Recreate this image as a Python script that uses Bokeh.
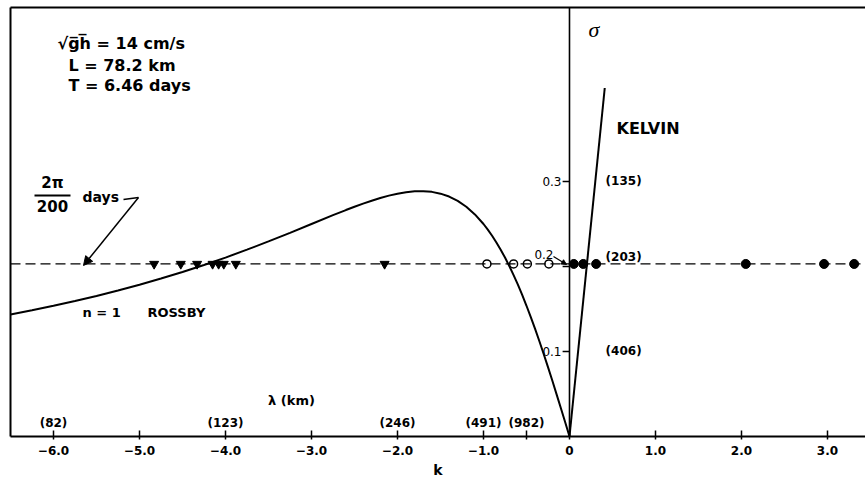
from bokeh.plotting import figure
from bokeh.models import (Range1d, LinearAxis, Span, Label, ColumnDataSource,
                          FixedTicker, Arrow, NormalHead)
from bokeh.embed import file_html
from bokeh.resources import INLINE
from bokeh.core.properties import value

# ---- data -----------------------------------------------------------------
# n = 1 Rossby dispersion curve (nondimensional wavenumber k, frequency sigma)
rossby_k = [-6.5, -6.25, -6.0, -5.75, -5.5, -5.25, -5.0, -4.75, -4.5, -4.25,
            -4.0, -3.75, -3.5, -3.25, -3.0, -2.75, -2.6, -2.5, -2.4, -2.3, -2.2,
            -2.1, -2.0, -1.9, -1.8, -1.7, -1.6, -1.5, -1.4, -1.3, -1.2, -1.1,
            -1.0, -0.95, -0.9, -0.85, -0.8, -0.75, -0.7, -0.65, -0.6, -0.55,
            -0.5, -0.45, -0.4, -0.35, -0.3, -0.25, -0.2, -0.15, -0.1, -0.05, 0.0]
rossby_sigma = [0.1436, 0.1486, 0.1538, 0.1594, 0.1654, 0.1718, 0.1786, 0.1858,
                0.1935, 0.2018, 0.2105, 0.2198, 0.2295, 0.2396, 0.2500, 0.2604,
                0.2664, 0.2703, 0.2740, 0.2774, 0.2806, 0.2834, 0.2857, 0.2874,
                0.2885, 0.2886, 0.2878, 0.2857, 0.2823, 0.2772, 0.2703, 0.2613,
                0.2500, 0.2434, 0.2362, 0.2283, 0.2198, 0.2105, 0.2006, 0.1899,
                0.1786, 0.1665, 0.1538, 0.1405, 0.1266, 0.1121, 0.0971, 0.0816,
                0.0658, 0.0496, 0.0332, 0.0167, 0.0]

# Kelvin wave branch
kelvin_k = [0.0, 0.41]
kelvin_sigma = [0.0, 0.41]

# observed 200-day frequency and the wavenumbers found at it
sigma_obs = 0.203
tri_k = [-4.83, -4.52, -4.33, -4.15, -4.08, -4.02, -3.88, -2.15]
open_k = [-0.96, -0.65, -0.49, -0.24]
filled_k = [0.05, 0.16, 0.31, 2.05, 2.96, 3.31]

# k axis ticks
x_ticks = [-6, -5, -4, -3, -2, -1, 0, 1, 2, 3]
x_tick_labels = ["\u22126.0", "\u22125.0", "\u22124.0", "\u22123.0", "\u22122.0",
                 "\u22121.0", "0", "1.0", "2.0", "3.0"]

# wavelength labels along the k axis
lam_k = [-6.0, -4.0, -2.0, -1.0, -0.5]
lam_labels = ["(82)", "(123)", "(246)", "(491)", "(982)"]

# sigma ticks and the matching periods (days)
sig_ticks = [0.1, 0.2, 0.3]
sig_tick_labels = ["0.1", "0.2", "0.3"]
period_labels = ["(406)", "(203)", "(135)"]

# ---- figure ---------------------------------------------------------------
FONT = "DejaVu Sans"
X0, X1 = -6.5, 3.442
Y0, Y1 = 0.0, 0.5047

p = figure(width=865, height=483, x_range=Range1d(X0, X1), y_range=Range1d(Y0, Y1),
           output_backend="svg", toolbar_location=None,
           min_border_left=10, min_border_right=0, min_border_top=7,
           min_border_bottom=47)
p.grid.visible = False
p.outline_line_color = None
p.background_fill_color = "white"
p.border_fill_color = "white"

xa = p.below[0]
ya = p.left[0]


def bare(axis):
    axis.ticker = FixedTicker(ticks=[])
    axis.major_tick_in = 0
    axis.major_tick_out = 0
    axis.minor_tick_in = 0
    axis.minor_tick_out = 0
    axis.major_label_text_font_size = "0px"
    axis.major_label_standoff = 0
    axis.axis_line_width = 2
    axis.axis_line_color = "black"


# frame: left and top plain lines, bottom is the k axis
bare(ya)
top = LinearAxis()
bare(top)
p.add_layout(top, "above")

xa.ticker = FixedTicker(ticks=x_ticks + [-0.5])
overrides = {t: s for t, s in zip(x_ticks, x_tick_labels)}
overrides[-0.5] = ""
xa.major_label_overrides = overrides
xa.major_tick_in = 6
xa.major_tick_out = 3
xa.major_tick_line_width = 1.5
xa.major_tick_line_color = "black"
xa.minor_tick_in = 0
xa.minor_tick_out = 0
xa.axis_line_width = 2
xa.axis_line_color = "black"
xa.major_label_text_font = FONT
xa.major_label_text_font_style = "bold"
xa.major_label_text_font_size = "12px"
xa.major_label_text_color = "black"
xa.major_label_standoff = 6
xa.axis_label = "k"
xa.axis_label_text_font = FONT
xa.axis_label_text_font_style = "bold"
xa.axis_label_text_font_size = "14px"
xa.axis_label_text_color = "black"
xa.axis_label_standoff = 4


def kx(px):
    """screen x (px) -> k"""
    return (px - 569.0) / 86.0


def sy(py):
    """screen y (px) -> sigma"""
    return (436.0 - py) / 850.0


# sigma axis drawn at k = 0
p.add_layout(Span(location=0, dimension="height", line_color="black", line_width=1.6))
p.segment(x0=[-0.08] * len(sig_ticks), y0=sig_ticks, x1=[0.0] * len(sig_ticks),
          y1=sig_ticks, line_color="black", line_width=1.4)

sig_src = ColumnDataSource(dict(x=[0.0] * 3, y=sig_ticks, t=sig_tick_labels,
                                xo=[-8, -16, -8], yo=[0, -12, 0]))
p.text(x="x", y="y", text="t", source=sig_src, x_offset="xo", y_offset="yo",
       text_align="right", text_baseline="middle", text_font=value(FONT),
       text_font_size="12px", text_color="black")

per_src = ColumnDataSource(dict(x=[0.42] * 3, y=sig_ticks, t=period_labels,
                                yo=[0, -9, 0]))
p.text(x="x", y="y", text="t", source=per_src, y_offset="yo", text_align="left",
       text_baseline="middle", text_font=value(FONT), text_font_style="bold",
       text_font_size="12px", text_color="black")

# 200-day frequency line
p.add_layout(Span(location=sigma_obs, dimension="width", line_color="black",
                  line_width=1.3, line_dash="10 5"))

# dispersion curves
p.line(rossby_k, rossby_sigma, line_color="black", line_width=2)
p.line(kelvin_k, kelvin_sigma, line_color="black", line_width=2)

# observed points
p.scatter(tri_k, [sigma_obs] * len(tri_k), marker="inverted_triangle", size=9,
          fill_color="black", line_color="black")
p.scatter(open_k, [sigma_obs] * len(open_k), marker="circle", size=8,
          fill_color="white", line_color="black", line_width=1.5)
p.scatter(filled_k, [sigma_obs] * len(filled_k), marker="circle", size=9,
          fill_color="black", line_color="black")

# wavelength labels above the k axis
lam_src = ColumnDataSource(dict(x=lam_k, y=[0.0] * len(lam_k), t=lam_labels))
p.text(x="x", y="y", text="t", source=lam_src, y_offset=-14, text_align="center",
       text_baseline="middle", text_font=value(FONT), text_font_style="bold",
       text_font_size="12px", text_color="black")


def label(txt, px, py, size="14px", align="left", font=FONT, style="bold"):
    p.add_layout(Label(x=kx(px), y=sy(py), text=txt, text_align=align,
                       text_baseline="middle", text_font=font,
                       text_font_style=style, text_font_size=size,
                       text_color="black"))


label("\u03bb (km)", 291, 400, align="center", size="13px")
label("\u221ag\u0305h\u0305 = 14  cm/s", 57, 43, size="16px")
label("L = 78.2  km", 68, 65, size="16px")
label("T = 6.46  days", 68, 85, size="16px")
label("KELVIN", 616, 128, size="16px")
label("n = 1", 82, 312, size="13px")
label("ROSSBY", 147, 312, size="13px")
label("\u03c3", 588, 29, size="22px", font="Liberation Serif", style="italic")

# 2 pi / 200 days annotation
label("2\u03c0", 52, 183, align="center", size="15px")
label("200", 52, 206, align="center", size="15px")
label("days", 82, 197, size="14px")
p.segment(x0=[kx(34)], y0=[sy(195)], x1=[kx(70)], y1=[sy(195)],
          line_color="black", line_width=1.8)
p.line([kx(123), kx(138)], [sy(199), sy(197)], line_color="black", line_width=1.5)
p.add_layout(Arrow(x_start=kx(138), y_start=sy(197), x_end=kx(83), y_end=sy(265),
                   line_color="black", line_width=1.5,
                   end=NormalHead(size=9, fill_color="black", line_color="black")))

# small pointer from the 0.2 label to the axis
p.add_layout(Arrow(x_start=kx(553), y_start=sy(256), x_end=kx(566), y_end=sy(264),
                   line_color="black", line_width=1.2,
                   end=NormalHead(size=5, fill_color="black", line_color="black")))

open("out.html", "w").write(file_html(p, INLINE))
